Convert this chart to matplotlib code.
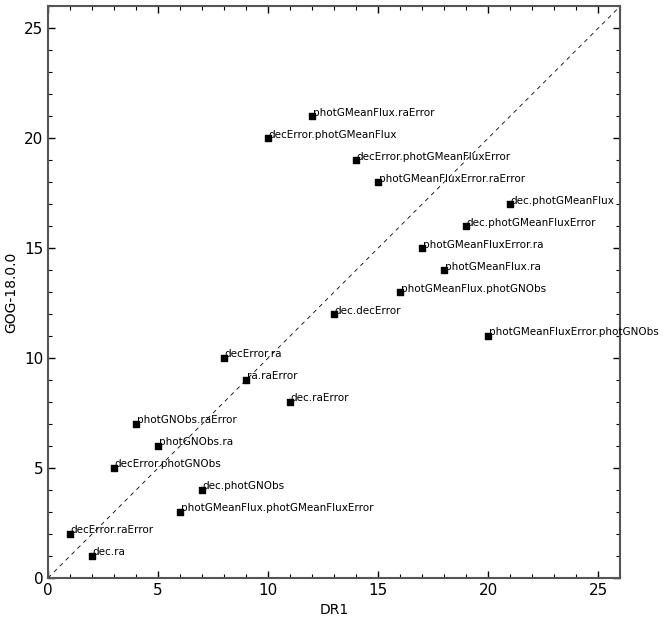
import matplotlib
matplotlib.use('Agg')
import matplotlib.pyplot as plt
from matplotlib.ticker import MultipleLocator

# ranks in each release
names = ['dec.ra', 'decError.raError', 'photGMeanFlux.photGMeanFluxError', 'dec.photGNObs',
         'decError.photGNObs', 'photGNObs.ra', 'photGNObs.raError', 'dec.raError',
         'ra.raError', 'decError.ra', 'photGMeanFluxError.photGNObs', 'dec.decError',
         'photGMeanFlux.photGNObs', 'photGMeanFlux.ra', 'photGMeanFluxError.ra',
         'dec.photGMeanFluxError', 'dec.photGMeanFlux', 'photGMeanFluxError.raError',
         'decError.photGMeanFluxError', 'decError.photGMeanFlux', 'photGMeanFlux.raError']
dr1 = [2, 1, 6, 7, 3, 5, 4, 11, 9, 8, 20, 13, 16, 18, 17, 19, 21, 15, 14, 10, 12]
gog = [1, 2, 3, 4, 5, 6, 7, 8, 9, 10, 11, 12, 13, 14, 15, 16, 17, 18, 19, 20, 21]

fig = plt.figure(figsize=(6.64, 6.24), dpi=100)
ax = fig.add_axes([0.0723, 0.0737, 0.8617, 0.9163])

ax.plot([0, 26], [0, 26], color='black', linestyle=(0, (5, 5)), linewidth=0.6)
ax.scatter(dr1, gog, marker='s', s=25, color='black', zorder=3)
for n, x, y in zip(names, dr1, gog):
    ax.annotate(n, (x, y), xytext=(0.5, -1), textcoords='offset points',
                fontsize=7.5, ha='left', va='bottom', annotation_clip=False)

ax.set_xlim(0, 26)
ax.set_ylim(0, 26)
ax.set_xlabel('DR1', fontsize=10)
ax.set_ylabel('GOG-18.0.0', fontsize=10)
ax.xaxis.set_major_locator(MultipleLocator(5))
ax.yaxis.set_major_locator(MultipleLocator(5))
ax.xaxis.set_minor_locator(MultipleLocator(1))
ax.yaxis.set_minor_locator(MultipleLocator(1))
ax.tick_params(which='both', direction='in', top=True, right=True, colors='black', labelsize=11)
ax.tick_params(which='major', length=5, width=1)
ax.tick_params(which='minor', length=3, width=0.8)
for s in ax.spines.values():
    s.set_color('#555555')
    s.set_linewidth(1.5)

fig.savefig('out.png', dpi=100)
